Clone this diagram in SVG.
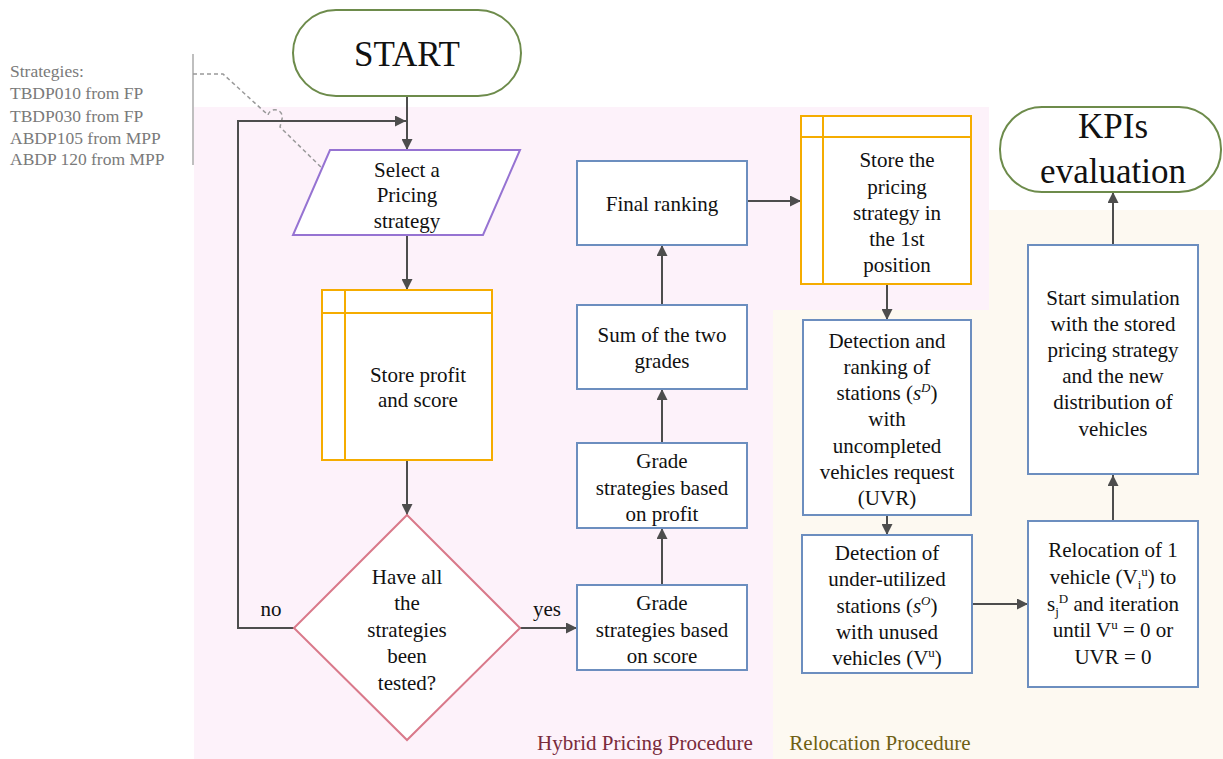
<svg xmlns="http://www.w3.org/2000/svg" width="1223" height="759" viewBox="0 0 1223 759" font-family="'Liberation Serif','Times New Roman',serif">
<defs>
<style>
.tx{font-family:'Liberation Serif','Times New Roman',serif;font-size:21px;fill:#111;text-anchor:middle}
.big{font-family:'Liberation Serif','Times New Roman',serif;font-size:35px;fill:#111;text-anchor:middle}
.note{font-family:'Liberation Serif','Times New Roman',serif;font-size:17.5px;fill:#7a7a7a}
.blue{fill:#fff;stroke:#6c8ebf;stroke-width:2}
.orange{fill:#fff;stroke:#f5ac00;stroke-width:2}
.oline{stroke:#f5ac00;stroke-width:2;fill:none}
.green{fill:#fff;stroke:#6d8b4b;stroke-width:2}
.conn{stroke:#4d4d4d;stroke-width:2;fill:none}
.it{font-style:italic}
.sm{font-size:13px}
</style>
<marker id="ah" viewBox="0 0 10 10" refX="10" refY="5" markerWidth="11" markerHeight="11" markerUnits="userSpaceOnUse" orient="auto">
<path d="M0,0 L10,5 L0,10 z" fill="#4d4d4d"/>
</marker>
</defs>
<rect width="1223" height="759" fill="#fff"/>
<g id="backgrounds">
<rect x="773" y="210" width="450" height="549" fill="#fdf9f1"/>
<rect x="194" y="107" width="795" height="203" fill="#fdf2fa"/>
<rect x="194" y="310" width="579" height="449" fill="#fdf2fa"/>
</g>
<g id="note">
<line x1="193" y1="54" x2="193" y2="165" stroke="#aaa" stroke-width="1.5"/>
<path d="M193,74 L223,74 L268,115 A7,7 0 0 1 282,119 L280,127 L326,172" fill="none" stroke="#999" stroke-width="1.5" stroke-dasharray="4,3"/>
<text class="note" x="10" y="77">Strategies:</text>
<text class="note" x="10" y="99">TBDP010 from FP</text>
<text class="note" x="10" y="122">TBDP030 from FP</text>
<text class="note" x="10" y="144">ABDP105 from MPP</text>
<text class="note" x="10" y="165">ABDP 120 from MPP</text>
</g>
<g id="connectors">
<line class="conn" x1="407" y1="96" x2="407" y2="150" marker-end="url(#ah)"/>
<polyline class="conn" points="294,628 238,628 238,121 406,121" marker-end="url(#ah)"/>
<line class="conn" x1="407" y1="235" x2="407" y2="290" marker-end="url(#ah)"/>
<line class="conn" x1="407" y1="460" x2="407" y2="515" marker-end="url(#ah)"/>
<line class="conn" x1="520" y1="628" x2="577" y2="628" marker-end="url(#ah)"/>
<line class="conn" x1="662" y1="585" x2="662" y2="528" marker-end="url(#ah)"/>
<line class="conn" x1="662" y1="443" x2="662" y2="389" marker-end="url(#ah)"/>
<line class="conn" x1="662" y1="305" x2="662" y2="245" marker-end="url(#ah)"/>
<line class="conn" x1="746" y1="201" x2="801" y2="201" marker-end="url(#ah)"/>
<line class="conn" x1="887" y1="284" x2="887" y2="320" marker-end="url(#ah)"/>
<line class="conn" x1="887" y1="515" x2="887" y2="535" marker-end="url(#ah)"/>
<line class="conn" x1="972" y1="604" x2="1028" y2="604" marker-end="url(#ah)"/>
<line class="conn" x1="1113" y1="521" x2="1113" y2="475" marker-end="url(#ah)"/>
<line class="conn" x1="1113" y1="245" x2="1113" y2="192" marker-end="url(#ah)"/>
<text class="tx" x="271" y="616">no</text>
<text class="tx" x="547" y="616">yes</text>
</g>
<g id="start">
<rect class="green" x="293" y="10" width="228" height="86" rx="43"/>
<text class="big" x="407" y="66">START</text>
</g>
<g id="select">
<polygon points="330,150 520,150 483,235 293,235" fill="#fff" stroke="#9673d2" stroke-width="2"/>
<text class="tx" x="407" y="177">Select a</text>
<text class="tx" x="407" y="202">Pricing</text>
<text class="tx" x="407" y="228">strategy</text>
</g>
<g id="store-profit">
<rect class="orange" x="322" y="290" width="170" height="170"/>
<line class="oline" x1="345" y1="290" x2="345" y2="460"/>
<line class="oline" x1="322" y1="313" x2="492" y2="313"/>
<text class="tx" x="418" y="382">Store profit</text>
<text class="tx" x="418" y="407">and score</text>
</g>
<g id="decision">
<polygon points="407,515 520,628 407,740 294,628" fill="#fff" stroke="#d9798a" stroke-width="2"/>
<text class="tx" x="407" y="584">Have all</text>
<text class="tx" x="407" y="610">the</text>
<text class="tx" x="407" y="637">strategies</text>
<text class="tx" x="407" y="663">been</text>
<text class="tx" x="407" y="690">tested?</text>
</g>
<g id="grade-score">
<rect class="blue" x="577" y="585" width="170" height="85"/>
<text class="tx" x="662" y="610">Grade</text>
<text class="tx" x="662" y="637">strategies based</text>
<text class="tx" x="662" y="663">on score</text>
</g>
<g id="grade-profit">
<rect class="blue" x="577" y="443" width="170" height="85"/>
<text class="tx" x="662" y="468">Grade</text>
<text class="tx" x="662" y="495">strategies based</text>
<text class="tx" x="662" y="521">on profit</text>
</g>
<g id="sum">
<rect class="blue" x="577" y="305" width="170" height="84"/>
<text class="tx" x="662" y="342">Sum of the two</text>
<text class="tx" x="662" y="368">grades</text>
</g>
<g id="final">
<rect class="blue" x="577" y="161" width="170" height="84"/>
<text class="tx" x="662" y="211">Final ranking</text>
</g>
<g id="store-first">
<rect class="orange" x="801" y="116" width="170" height="168"/>
<line class="oline" x1="823" y1="116" x2="823" y2="284"/>
<line class="oline" x1="801" y1="137" x2="971" y2="137"/>
<text class="tx" x="897" y="167">Store the</text>
<text class="tx" x="897" y="194">pricing</text>
<text class="tx" x="897" y="220">strategy in</text>
<text class="tx" x="897" y="246">the 1st</text>
<text class="tx" x="897" y="272">position</text>
</g>
<g id="detect-rank">
<rect class="blue" x="803" y="320" width="168" height="195"/>
<text class="tx" x="887" y="348">Detection and</text>
<text class="tx" x="887" y="374">ranking of</text>
<text class="tx" x="887" y="400">stations (<tspan class="it">s</tspan><tspan class="it sm" dy="-8">D</tspan><tspan dy="8">)</tspan></text>
<text class="tx" x="887" y="426">with</text>
<text class="tx" x="887" y="453">uncompleted</text>
<text class="tx" x="887" y="479">vehicles request</text>
<text class="tx" x="887" y="505">(UVR)</text>
</g>
<g id="detect-under">
<rect class="blue" x="802" y="535" width="170" height="138"/>
<text class="tx" x="887" y="560">Detection of</text>
<text class="tx" x="887" y="586">under-utilized</text>
<text class="tx" x="887" y="613">stations (<tspan class="it">s</tspan><tspan class="it sm" dy="-8">O</tspan><tspan dy="8">)</tspan></text>
<text class="tx" x="887" y="639">with unused</text>
<text class="tx" x="887" y="665">vehicles (V<tspan class="sm" dy="-8">u</tspan><tspan dy="8">)</tspan></text>
</g>
<g id="relocation">
<rect class="blue" x="1028" y="521" width="170" height="166"/>
<text class="tx" x="1113" y="557">Relocation of 1</text>
<text class="tx" x="1113" y="584">vehicle (V<tspan class="sm" dy="5">i</tspan><tspan class="sm" dy="-13">u</tspan><tspan dy="8">) to</tspan></text>
<text class="tx" x="1113" y="611">s<tspan class="sm" dy="5">j</tspan><tspan class="sm" dy="-13">D</tspan><tspan dy="8"> and iteration</tspan></text>
<text class="tx" x="1113" y="637">until V<tspan class="sm" dy="-8">u</tspan><tspan dy="8"> = 0 or</tspan></text>
<text class="tx" x="1113" y="664">UVR = 0</text>
</g>
<g id="simulation">
<rect class="blue" x="1028" y="245" width="170" height="229"/>
<text class="tx" x="1113" y="305">Start simulation</text>
<text class="tx" x="1113" y="331">with the stored</text>
<text class="tx" x="1113" y="357">pricing strategy</text>
<text class="tx" x="1113" y="383">and the new</text>
<text class="tx" x="1113" y="409">distribution of</text>
<text class="tx" x="1113" y="436">vehicles</text>
</g>
<g id="kpi">
<rect class="green" x="1000" y="107" width="221" height="85" rx="42"/>
<text class="big" x="1113" y="138">KPIs</text>
<text class="big" x="1113" y="183">evaluation</text>
</g>
<g id="labels">
<text x="645" y="750" font-family="'Liberation Serif','Times New Roman',serif" font-size="21" fill="#7a2a3a" text-anchor="middle">Hybrid Pricing Procedure</text>
<text x="880" y="750" font-family="'Liberation Serif','Times New Roman',serif" font-size="21" fill="#6e5f14" text-anchor="middle">Relocation Procedure</text>
</g>
</svg>
